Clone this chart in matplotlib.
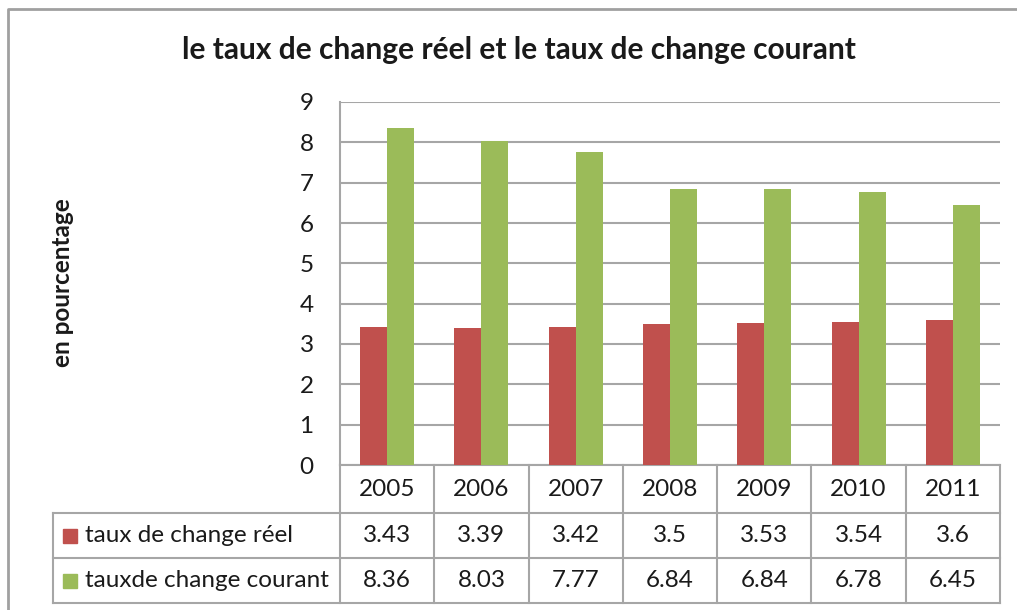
import matplotlib.pyplot as plt
from matplotlib.transforms import blended_transform_factory
import numpy as np

years = ['2005', '2006', '2007', '2008', '2009', '2010', '2011']
reel = [3.43, 3.39, 3.42, 3.5, 3.53, 3.54, 3.6]
courant = [8.36, 8.03, 7.77, 6.84, 6.84, 6.78, 6.45]
reel_labels = ['3.43', '3.39', '3.42', '3.5', '3.53', '3.54', '3.6']
courant_labels = ['8.36', '8.03', '7.77', '6.84', '6.84', '6.78', '6.45']
names = ['taux de change réel', 'tauxde change courant']
colors = ['#C0504D', '#9BBB59']

plt.rcParams['font.family'] = ['Lato', 'DejaVu Sans']
W, H = 1017, 610
grid_c = '#A6A6A6'
txt_c = '#1a1a1a'
fs = 17.5

fig = plt.figure(figsize=(W / 100, H / 100), dpi=100)

def fy(py):
    return 1 - py / H

def fx(px):
    return px / W

ax = fig.add_axes([fx(340), fy(465), fx(1000) - fx(340), fy(102) - fy(465)])
x = np.arange(len(years))
bw = 0.286
ax.bar(x - bw / 2, reel, bw, color=colors[0], zorder=3)
ax.bar(x + bw / 2, courant, bw, color=colors[1], zorder=3)
ax.set_xlim(-0.5, len(years) - 0.5)
ax.set_ylim(0, 9)
ax.set_yticks(range(10))
ax.yaxis.grid(True, color=grid_c, lw=1.5, zorder=0)
for s in ['top', 'right', 'bottom']:
    ax.spines[s].set_visible(False)
ax.spines['left'].set_color(grid_c)
ax.spines['left'].set_linewidth(1.5)
ax.set_xticks([])
ax.tick_params(axis='y', length=0, pad=19, labelsize=fs, labelcolor=txt_c)

# data table under the axis
tr = blended_transform_factory(ax.transData, fig.transFigure)
rows_y = [465, 513, 558, 603]
lkw = dict(color=grid_c, lw=1.5, clip_on=False)
ax.plot([-0.5, 6.5], [fy(465)] * 2, transform=tr, **lkw)
for py in rows_y[1:]:
    fig.add_artist(plt.Line2D([fx(53), fx(1000)], [fy(py)] * 2, **lkw))
for k in range(len(years) + 1):
    ax.plot([k - 0.5] * 2, [fy(465), fy(603)], transform=tr, **lkw)
fig.add_artist(plt.Line2D([fx(53)] * 2, [fy(513), fy(603)], **lkw))

tkw = dict(transform=tr, ha='center', va='center', fontsize=fs, color=txt_c)
for i in range(len(years)):
    ax.text(i, fy(489), years[i], **tkw)
    ax.text(i, fy(535.5), reel_labels[i], **tkw)
    ax.text(i, fy(580.5), courant_labels[i], **tkw)

for j, (nm, c) in enumerate(zip(names, colors)):
    cy = [535.5, 580.5][j]
    fig.add_artist(plt.Rectangle((fx(63), fy(cy + 7)), fx(14), 14 / H,
                                 color=c, transform=fig.transFigure))
    fig.text(fx(85), fy(cy), nm, ha='left', va='center', fontsize=fs, color=txt_c)

fig.text(fx(519), fy(50), 'le taux de change réel et le taux de change courant',
         ha='center', va='center', fontsize=21.5, fontweight='bold', color=txt_c)
fig.text(fx(62), fy(283), 'en pourcentage', rotation=90, ha='center', va='center',
         fontsize=17.5, fontweight='bold', color=txt_c)

# outer chart border (right and bottom edges are outside the picture)
fig.add_artist(plt.Line2D([fx(8), fx(8), 1.01], [-0.01, fy(9), fy(9)],
                          color='#A0A0A0', lw=2))

fig.savefig('out.png', dpi=100)
